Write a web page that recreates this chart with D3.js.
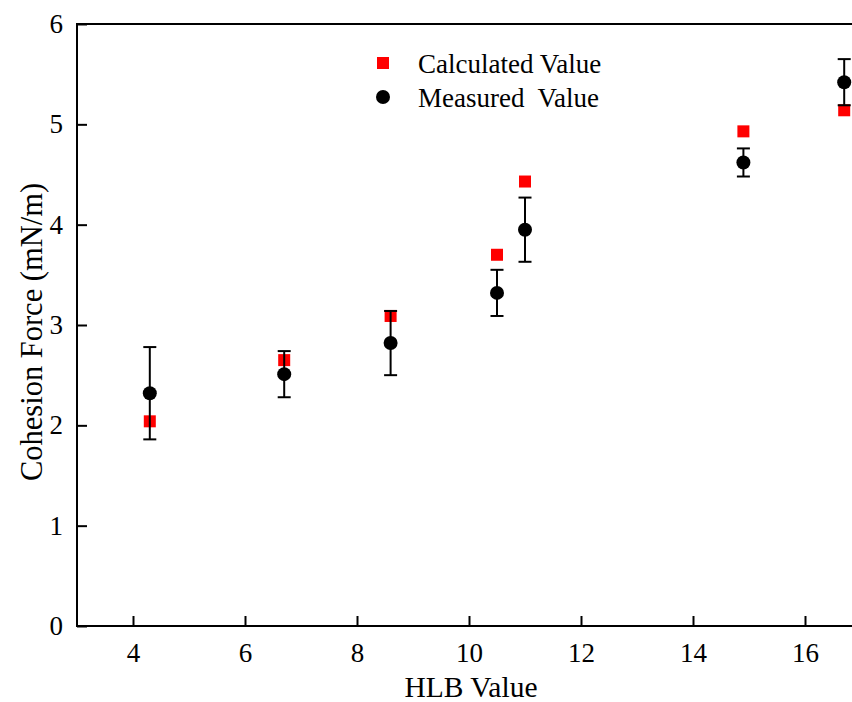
<!DOCTYPE html>
<html>
<head>
<meta charset="utf-8">
<script src="https://cdn.jsdelivr.net/npm/d3@7"></script>
<style>
  html, body { margin: 0; padding: 0; background: #fff; }
  svg { display: block; font-family: "Liberation Serif", "Times New Roman", serif; }
</style>
</head>
<body>
<svg id="chart" width="852" height="702"></svg>
<script>
/* data */
const hlb        = [4.3, 6.7, 8.6, 10.5, 11.0, 14.9, 16.7];
const measured   = [2.32, 2.51, 2.82, 3.32, 3.95, 4.62, 5.42];
const measErr    = [0.46, 0.23, 0.32, 0.23, 0.32, 0.14, 0.23];
const calculated = [2.04, 2.65, 3.09, 3.70, 4.43, 4.93, 5.14];
const xTicks = [4, 6, 8, 10, 12, 14, 16];
const yTicks = [0, 1, 2, 3, 4, 5, 6];
const legendLabels = ['Calculated Value', 'Measured  Value'];

const svg = d3.select('#chart');
const m = { l: 77, t: 24, b: 626 };
const x = d3.scaleLinear().domain([3, 17.5]).range([m.l, m.l + 14.5 * 56]);
const y = d3.scaleLinear().domain([0, 6]).range([m.b, m.t]);

// frame (right side runs past the crop)
svg.append('rect')
  .attr('x', x(3)).attr('y', y(6))
  .attr('width', x(17.5) - x(3)).attr('height', y(0) - y(6))
  .attr('fill', 'none').attr('stroke', '#000').attr('stroke-width', 2);

// axes, ticks inward
const xAxis = svg.append('g').attr('transform', `translate(0,${y(0)})`)
  .call(d3.axisBottom(x).tickValues(xTicks).tickFormat(d3.format('d')).tickSize(-10).tickPadding(17));
const yAxis = svg.append('g').attr('transform', `translate(${x(3)},0)`)
  .call(d3.axisLeft(y).tickValues(yTicks).tickFormat(d3.format('d')).tickSize(-10).tickPadding(14));
[xAxis, yAxis].forEach(g => {
  g.attr('font-size', null).attr('font-family', null);
  g.select('.domain').remove();
  g.selectAll('line').attr('stroke', '#000').attr('stroke-width', 2);
  g.selectAll('text').attr('font-size', 27).attr('fill', '#000');
});

// axis titles
svg.append('text').attr('x', 471).attr('y', 697).attr('text-anchor', 'middle')
  .attr('font-size', 29.5).text('HLB Value');
svg.append('text').attr('transform', 'translate(42,332) rotate(-90)')
  .attr('text-anchor', 'middle').attr('font-size', 30.5).text('Cohesion Force (mN/m)');

// calculated squares
const sq = 12;
svg.append('g').selectAll('rect').data(hlb).join('rect')
  .attr('x', (d) => x(d) - sq / 2)
  .attr('y', (d, i) => y(calculated[i]) - sq / 2)
  .attr('width', sq).attr('height', sq).attr('fill', '#f00');

// measured with error bars
const eb = svg.append('g').attr('stroke', '#000').attr('stroke-width', 2);
hlb.forEach((h, i) => {
  const hi = y(measured[i] + measErr[i]), lo = y(measured[i] - measErr[i]);
  eb.append('line').attr('x1', x(h)).attr('x2', x(h)).attr('y1', hi).attr('y2', lo);
  eb.append('line').attr('x1', x(h) - 6.5).attr('x2', x(h) + 6.5).attr('y1', hi).attr('y2', hi);
  eb.append('line').attr('x1', x(h) - 6.5).attr('x2', x(h) + 6.5).attr('y1', lo).attr('y2', lo);
});
svg.append('g').selectAll('circle').data(hlb).join('circle')
  .attr('cx', (d) => x(d)).attr('cy', (d, i) => y(measured[i]))
  .attr('r', 7).attr('fill', '#000');

// legend
const lg = svg.append('g');
lg.append('rect').attr('x', 383 - sq / 2).attr('y', 63 - sq / 2)
  .attr('width', sq).attr('height', sq).attr('fill', '#f00');
lg.append('circle').attr('cx', 383).attr('cy', 97).attr('r', 7).attr('fill', '#000');
legendLabels.forEach((t, i) => {
  lg.append('text').attr('x', 418).attr('y', 73 + i * 34)
    .attr('font-size', 27).style('white-space', 'pre').text(t);
});
</script>
</body>
</html>
